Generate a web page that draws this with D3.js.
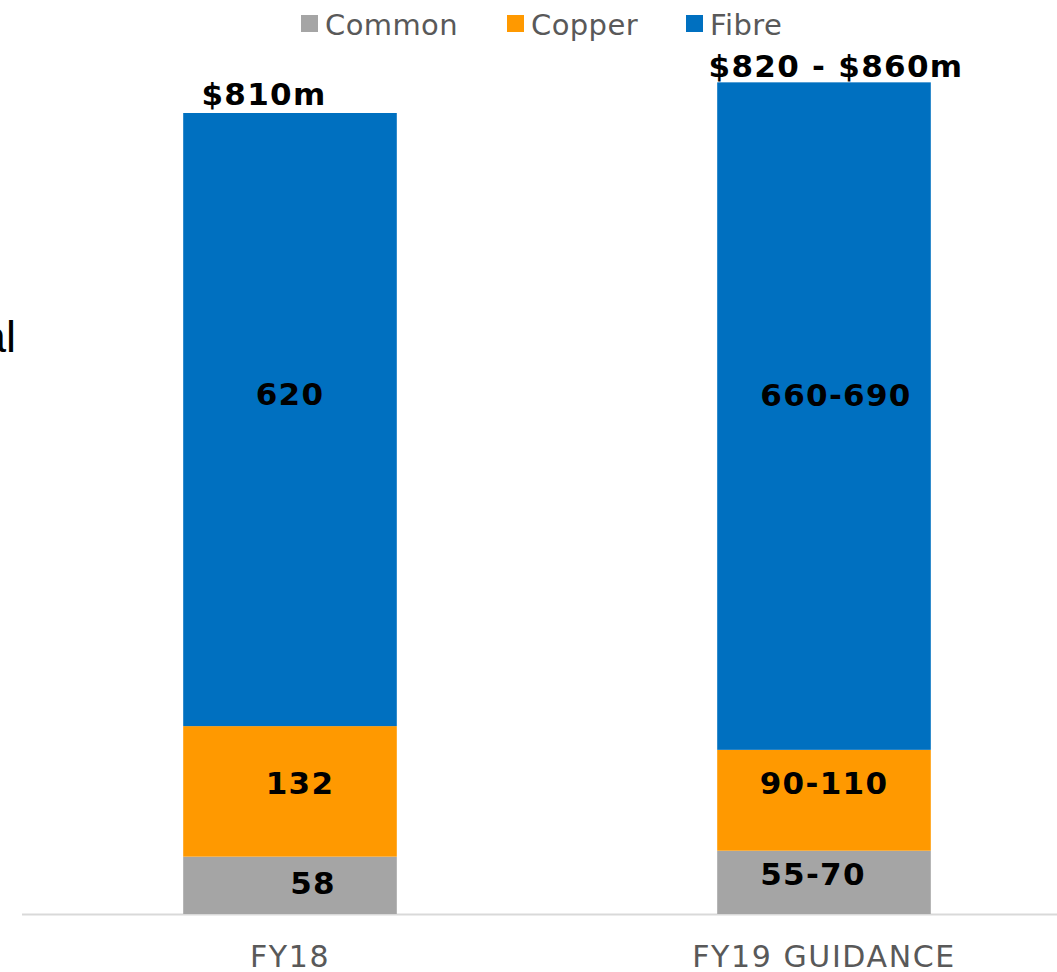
<!DOCTYPE html>
<html><head><meta charset="utf-8">
<script src="https://cdn.jsdelivr.net/npm/d3@7/dist/d3.min.js"></script>
<style>html,body{margin:0;padding:0;background:#fff;overflow:hidden}</style>
</head><body>
<svg id="chart" width="1057" height="972"></svg>
<script>
// ---- data ----
const categories = ["FY18", "FY19 GUIDANCE"];
const seriesNames = ["Common", "Copper", "Fibre"];
const commonValues = [58, 64];
const copperValues = [132, 102];
const fibreValues = [620, 675];
const commonLabels = ["58", "55-70"];
const copperLabels = ["132", "90-110"];
const fibreLabels = ["620", "660-690"];
const totalLabels = ["$810m", "$820 - $860m"];

// ---- layout / style ----
const colors = {Common: "#a5a5a5", Copper: "#ff9900", Fibre: "#0070c0"};
const W = 1057, H = 972;
const baseY = 914;
// label nudges (dx, dy) relative to segment center, per series per category
const nudge = {
  Common: [[23, -2], [-11, -8.5]],
  Copper: [[10, -8.5], [0, -17]],
  Fibre: [[0, -25.5], [12, -21.5]]
};
const totalPos = [[-26, 105], [12, 77]]; // dx from bar center, baseline y

const svg = d3.select("#chart");

const x = d3.scaleBand().domain(categories).range([23, 1091])
  .paddingInner(0.6).paddingOuter(0.3);
const y = d3.scaleLinear().domain([0, 900]).range([baseY, baseY - 890]);

const rows = categories.map((c, i) => ({
  cat: c, Common: commonValues[i], Copper: copperValues[i], Fibre: fibreValues[i]
}));
const labelMap = {Common: commonLabels, Copper: copperLabels, Fibre: fibreLabels};
const stacked = d3.stack().keys(seriesNames)(rows);

// axis line
svg.append("line").attr("x1", 22).attr("x2", W).attr("y1", baseY + 0.5).attr("y2", baseY + 0.5)
  .attr("stroke", "#d9d9d9").attr("stroke-width", 2);

// bars
const layers = svg.selectAll("g.layer").data(stacked).join("g").attr("class", "layer")
  .attr("fill", d => colors[d.key]);
layers.selectAll("rect").data(d => d).join("rect")
  .attr("x", d => x(d.data.cat))
  .attr("width", x.bandwidth())
  .attr("y", d => y(d[1]))
  .attr("height", d => y(d[0]) - y(d[1]));

const boldFont = sel => sel
  .attr("font-family", "DejaVu Sans, Verdana, sans-serif")
  .attr("font-weight", "bold").attr("font-size", 31).attr("fill", "#000")
  .attr("letter-spacing", 1.3);

// segment labels
stacked.forEach(layer => {
  layer.forEach((d, i) => {
    const cx = x(d.data.cat) + x.bandwidth() / 2 + nudge[layer.key][i][0];
    const cy = (y(d[0]) + y(d[1])) / 2 + nudge[layer.key][i][1];
    svg.append("text").attr("x", cx).attr("y", cy).attr("dy", "0.36em")
      .attr("text-anchor", "middle")
      .call(boldFont)
      .text(labelMap[layer.key][i]);
  });
});

// total labels
categories.forEach((c, i) => {
  svg.append("text").attr("x", x(c) + x.bandwidth() / 2 + totalPos[i][0]).attr("y", totalPos[i][1])
    .attr("text-anchor", "middle")
    .call(boldFont)
    .text(totalLabels[i]);
});

// category axis labels
const xAxis = d3.axisBottom(x).tickSize(0).tickPadding(0);
const gx = svg.append("g").attr("transform", `translate(0,${baseY})`).call(xAxis);
gx.select(".domain").remove();
gx.selectAll("text").attr("y", 53).attr("dy", 0)
  .attr("font-family", "DejaVu Sans, Verdana, sans-serif")
  .attr("font-size", 30).attr("fill", "#595959").attr("letter-spacing", 1.6);

// legend
const legendX = [301, 507, 686];
const lg = svg.selectAll("g.leg").data(seriesNames).join("g").attr("class", "leg")
  .attr("transform", (d, i) => `translate(${legendX[i]},0)`);
lg.append("rect").attr("x", 0).attr("y", 15).attr("width", 17).attr("height", 17)
  .attr("fill", d => colors[d]);
lg.append("text").attr("x", 24).attr("y", 35)
  .attr("font-family", "DejaVu Sans, Verdana, sans-serif")
  .attr("font-size", 29).attr("fill", "#595959").attr("letter-spacing", 0.4).text(d => d);

// cut-off side text fragment
svg.append("text").attr("x", 16).attr("y", 352).attr("text-anchor", "end")
  .attr("font-family", "Liberation Sans, Arial, sans-serif")
  .attr("font-size", 45).attr("fill", "#000").text("al");
</script>
</body></html>
